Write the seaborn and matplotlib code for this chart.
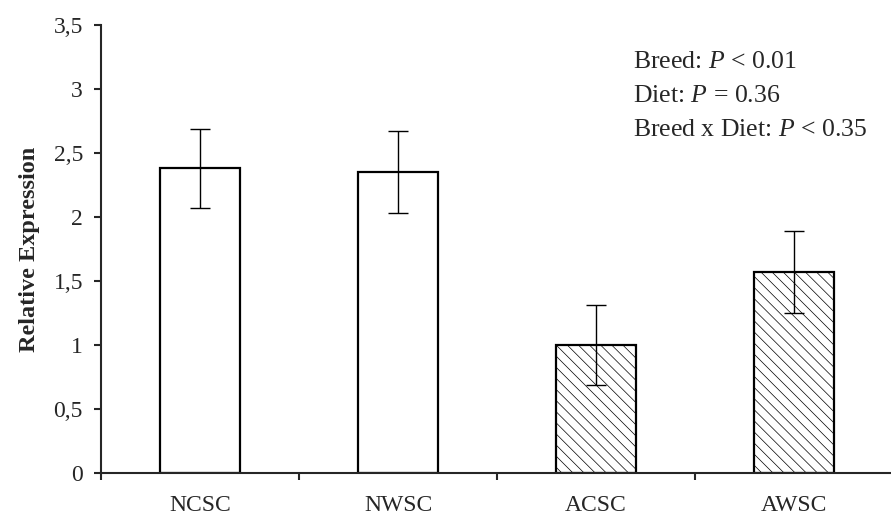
import numpy as np
import pandas as pd
import seaborn as sns
import matplotlib.pyplot as plt

# ----------------------------------------
# DATA
# ----------------------------------------
groups = ["NCSC", "NWSC", "ACSC", "AWSC"]
expression = [2.38, 2.35, 1.00, 1.57]
sem = [0.31, 0.32, 0.31, 0.32]
stats_lines = ["Breed: $P$ < 0.01", "Diet: $P$ = 0.36", "Breed x Diet: $P$ < 0.35"]

df = pd.DataFrame({"Group": groups, "Expression": expression})

sns.set_style("ticks")
plt.rcParams["font.family"] = ["Liberation Serif", "DejaVu Serif"]
plt.rcParams["mathtext.fontset"] = "custom"
plt.rcParams["mathtext.rm"] = "Liberation Serif"
plt.rcParams["mathtext.it"] = "Liberation Serif:italic"
plt.rcParams["hatch.linewidth"] = 0.5

fig = plt.figure(figsize=(8.91, 5.17), dpi=100)
ax = fig.add_axes([0.1134, 0.0851, 0.8866, 0.8665])

sns.barplot(data=df, x="Group", y="Expression", color="white", width=0.40,
            edgecolor="black", linewidth=1.6, errorbar=None, ax=ax)

# dotted/dashed texture on the "A" groups
for p, g in zip(ax.patches, groups):
    if g.startswith("A"):
        p.set_hatch("\\\\\\")

xs = [p.get_x() + p.get_width() / 2 for p in ax.patches]
ax.errorbar(xs, expression, yerr=sem, fmt="none", ecolor="black",
            elinewidth=1.0, capsize=7, capthick=1.0)

ax.set_xlim(-0.5, 3.49)
ax.set_ylim(0, 3.5)
ax.set_yticks(np.arange(0, 3.51, 0.5))
ax.set_yticklabels(["0", "0,5", "1", "1,5", "2", "2,5", "3", "3,5"])
ax.set_xticks([-0.5, 0.5, 1.5, 2.5], minor=True)
ax.tick_params(axis="x", which="major", length=0, pad=16, labelsize=17)
ax.tick_params(axis="x", which="minor", length=5, width=1.5, direction="out")
ax.tick_params(axis="y", length=5, width=1.5, pad=8, labelsize=17)
ax.set_xlabel("")
ax.set_ylabel("Relative Expression", fontsize=17.5, fontweight="bold", labelpad=10)

for s in ["top", "right"]:
    ax.spines[s].set_visible(False)
for s in ["left", "bottom"]:
    ax.spines[s].set_linewidth(1.5)

for i, line in enumerate(stats_lines):
    ax.text(0.673, 0.917 - i * 0.076, line, transform=ax.transAxes,
            fontsize=18.5, va="center", ha="left", clip_on=False)

plt.savefig("out.png", dpi=100)
